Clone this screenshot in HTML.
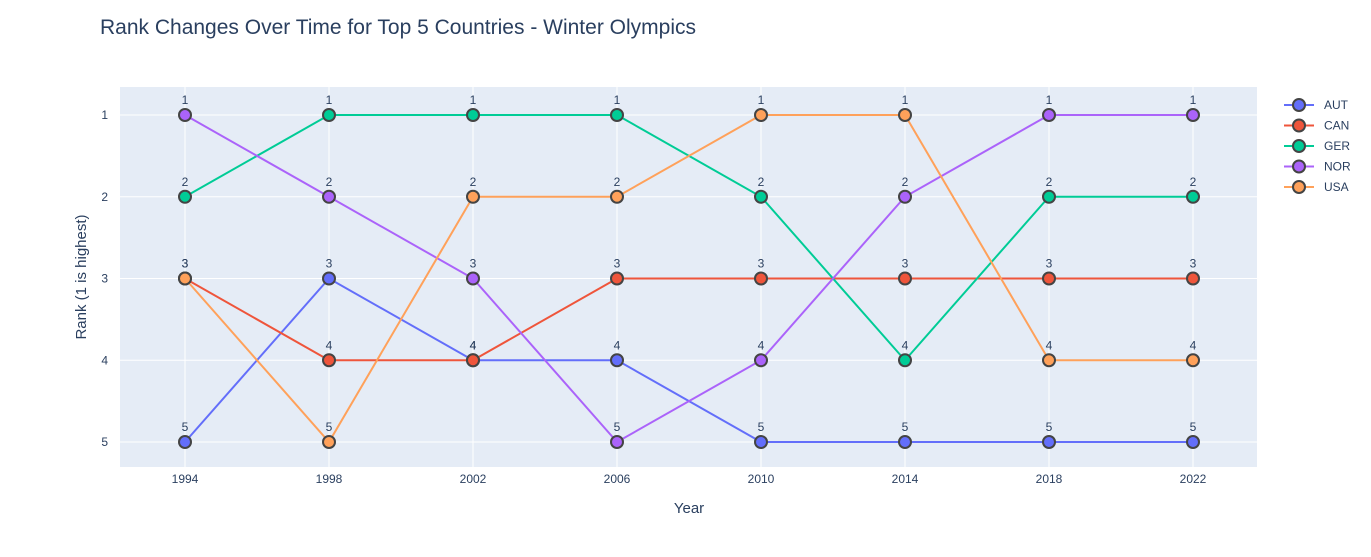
<!DOCTYPE html>
<html><head><meta charset="utf-8"><style>
body{margin:0;background:#fff;font-family:"Liberation Sans",sans-serif;}
</style></head><body>
<svg id="chart" width="1371" height="552" xmlns="http://www.w3.org/2000/svg">
<rect x="0" y="0" width="1371" height="552" fill="#fff"/>
<text x="100" y="34" font-size="21" fill="#2a3f5f">Rank Changes Over Time for Top 5 Countries - Winter Olympics</text>
<rect x="120" y="87" width="1137" height="380" fill="#e5ecf6"/>
<g id="grid"></g>
<g id="series"></g>
<g id="legend"></g>
<text x="689" y="513" font-size="15" fill="#2a3f5f" text-anchor="middle">Year</text>
<text transform="translate(86,277) rotate(-90)" font-size="15" fill="#2a3f5f" text-anchor="middle">Rank (1 is highest)</text>
</svg>
<script>
const years=[1994,1998,2002,2006,2010,2014,2018,2022];
const ranks=[1,2,3,4,5];
const countries=["AUT","CAN","GER","NOR","USA"];
const colors=["#636efa","#EF553B","#00cc96","#ab63fa","#FFA15A"];
const autRanks=[5,3,4,4,5,5,5,5];
const canRanks=[3,4,4,3,3,3,3,3];
const gerRanks=[2,1,1,1,2,4,2,2];
const norRanks=[1,2,3,5,4,2,1,1];
const usaRanks=[3,5,2,2,1,1,4,4];
const seriesData=[autRanks,canRanks,gerRanks,norRanks,usaRanks];
const NS="http://www.w3.org/2000/svg";
const xs=y=>185+(y-1994)*(1193-185)/28;
const ys=r=>115+(r-1)*(442-115)/4;
function mk(t,a,p){const e=document.createElementNS(NS,t);for(const k in a)e.setAttribute(k,a[k]);p.appendChild(e);return e;}
const grid=document.getElementById('grid');
years.forEach(y=>{
 const l=mk('line',{x1:xs(y),x2:xs(y),y1:87,y2:467,stroke:'#fff','stroke-width':1},grid);
 
 
 const t=mk('text',{x:xs(y),y:483,'font-size':12,fill:'#2a3f5f','text-anchor':'middle'},grid);
 t.textContent=y;
 
 
});
ranks.forEach(r=>{
 const l=mk('line',{x1:120,x2:1257,y1:ys(r),y2:ys(r),stroke:'#fff','stroke-width':1},grid);
 
 
 const t=mk('text',{x:108,y:ys(r)+4,'font-size':12,fill:'#2a3f5f','text-anchor':'end'},grid);
 t.textContent=r;
 
 
});
const sg=document.getElementById('series');
seriesData.forEach((d,i)=>{
 const g=mk('g',{},sg);
 
 
 const pl=mk('polyline',{points:d.map((v,j)=>xs(years[j])+','+ys(v)).join(' '),fill:'none',stroke:colors[i],'stroke-width':2},g);
 
 
 d.forEach((v,j)=>{
  const c=mk('circle',{cx:xs(years[j]),cy:ys(v),r:6,fill:colors[i],stroke:'#444','stroke-width':2},g);
  
  
  const t=mk('text',{x:xs(years[j]),y:ys(v)-11,'font-size':12,fill:'#2a3f5f','text-anchor':'middle'},g);
  t.textContent=v;
  
  
 });
});
const lg=document.getElementById('legend');
countries.forEach((c,i)=>{
 const y=105+i*20.5;
 const g=mk('g',{},lg);
 
 
 mk('line',{x1:1284,x2:1314,y1:y,y2:y,stroke:colors[i],'stroke-width':2},g);
 mk('circle',{cx:1299,cy:y,r:6,fill:colors[i],stroke:'#444','stroke-width':2},g);
 const t=mk('text',{x:1324,y:y+4,'font-size':12,fill:'#2a3f5f'},g);
 t.textContent=c;
});
</script>
</body></html>
